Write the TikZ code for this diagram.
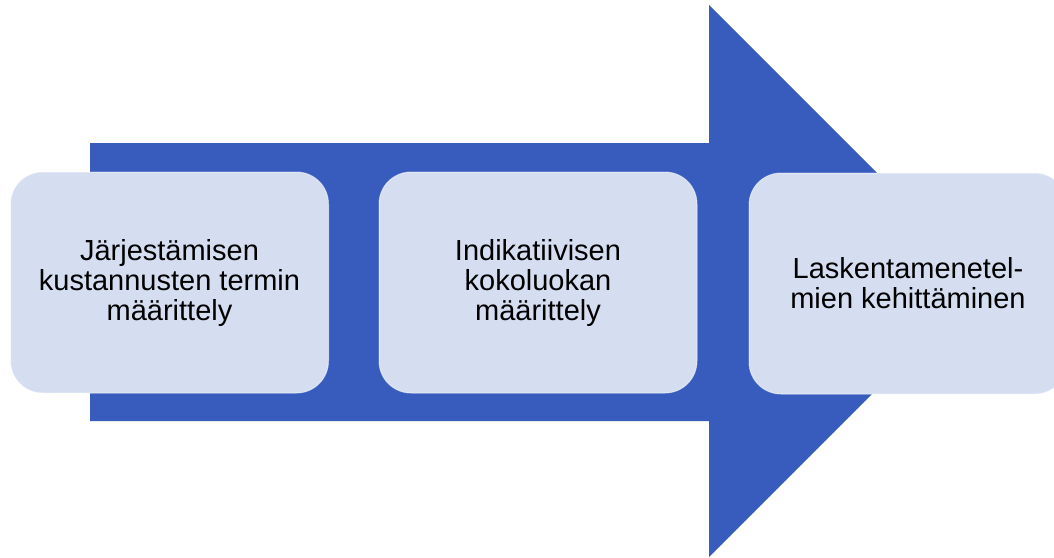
\documentclass[tikz,border=0pt]{standalone}
\usepackage{fontspec}
\setmainfont{Liberation Sans}
\definecolor{arrowblue}{HTML}{385BBE}
\definecolor{boxfill}{HTML}{D5DEF1}
\begin{document}
\begin{tikzpicture}[x=1pt,y=-1pt]
            \useasboundingbox (0,0) rectangle (1054,557);
            \fill[arrowblue] (90,143) -- (709,143) -- (709,5) -- (985,281)
                -- (709,557) -- (709,421) -- (90,421) -- cycle;
            \begin{scope}[every node/.style={rectangle, rounded corners=32pt,
                    fill=boxfill, draw=white, draw opacity=0.5, line width=1pt,
                    minimum width=318pt, minimum height=221pt,
                    align=center, font=\fontsize{29}{30}\selectfont}]

                \node (1) at (169.5,282.5) {Järjestämisen\\kustannusten termin\\määrittely};
                \node (2) at (538,282.5) {Indikatiivisen\\kokoluokan\\määrittely};
                \node (3) at (908,283.5) {Laskentamenetel-\\mien kehittäminen};

            \end{scope}
        \end{tikzpicture}
\end{document}
